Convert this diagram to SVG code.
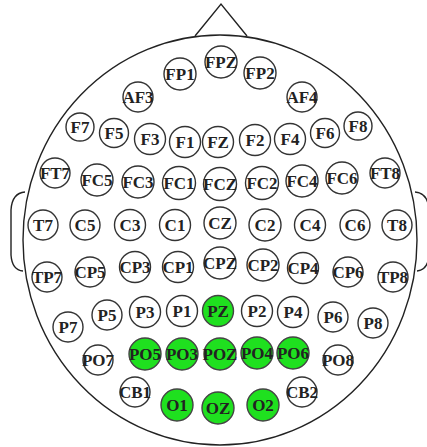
<svg xmlns="http://www.w3.org/2000/svg" width="427" height="447" viewBox="0 0 427 447">
<style>
.head{fill:none;stroke:#222;stroke-width:1.4}
.e circle{fill:#fff;stroke:#333;stroke-width:1.4}
.g circle{fill:#1fe01f;stroke:#444;stroke-width:1.4}
text{font-family:"Liberation Serif","Times New Roman",serif;font-size:17px;font-weight:bold;fill:#222;text-anchor:middle}
</style>
<rect width="427" height="447" fill="#fff"/>
<g id="head">
<ellipse class="head" cx="220" cy="240" rx="197" ry="205"/>
<path class="head" d="M195 36 L221 4 L247 36"/>
<path class="head" d="M25 192 Q12 193 11 210 L11 255 Q12 270 23 271"/>
<path class="head" d="M415 192 Q428 193 429 210 L429 255 Q428 270 417 271"/>
</g>
<g id="connectors"></g>
<g id="FPZ" class="e"><circle cx="221" cy="62" r="16"/><text x="221" y="67.6">FPZ</text></g>
<g id="FP1" class="e"><circle cx="180" cy="74" r="16"/><text x="180" y="79.6">FP1</text></g>
<g id="FP2" class="e"><circle cx="260" cy="73" r="16"/><text x="260" y="78.6">FP2</text></g>
<g id="AF3" class="e"><circle cx="138" cy="97" r="15"/><text x="138" y="102.6">AF3</text></g>
<g id="AF4" class="e"><circle cx="302" cy="97" r="15"/><text x="302" y="102.6">AF4</text></g>
<g id="F7" class="e"><circle cx="80" cy="127" r="14"/><text x="80" y="132.6">F7</text></g>
<g id="F5" class="e"><circle cx="114" cy="133" r="14.5"/><text x="114" y="138.6">F5</text></g>
<g id="F3" class="e"><circle cx="150" cy="139" r="15.5"/><text x="150" y="144.6">F3</text></g>
<g id="F1" class="e"><circle cx="185" cy="142" r="15.5"/><text x="185" y="147.6">F1</text></g>
<g id="FZ" class="e"><circle cx="218" cy="142" r="15.5"/><text x="218" y="147.6">FZ</text></g>
<g id="F2" class="e"><circle cx="255" cy="140" r="15.5"/><text x="255" y="145.6">F2</text></g>
<g id="F4" class="e"><circle cx="290" cy="139" r="15.5"/><text x="290" y="144.6">F4</text></g>
<g id="F6" class="e"><circle cx="325" cy="133" r="14.5"/><text x="325" y="138.6">F6</text></g>
<g id="F8" class="e"><circle cx="358" cy="126" r="14"/><text x="358" y="131.6">F8</text></g>
<g id="FT7" class="e"><circle cx="55" cy="173" r="15"/><text x="55" y="178.6">FT7</text></g>
<g id="FC5" class="e"><circle cx="97" cy="180" r="16"/><text x="97" y="185.6">FC5</text></g>
<g id="FC3" class="e"><circle cx="138" cy="182" r="16"/><text x="138" y="187.6">FC3</text></g>
<g id="FC1" class="e"><circle cx="179" cy="183" r="16.5"/><text x="179" y="188.6">FC1</text></g>
<g id="FCZ" class="e"><circle cx="220" cy="184" r="16.5"/><text x="220" y="189.6">FCZ</text></g>
<g id="FC2" class="e"><circle cx="262" cy="183" r="16.5"/><text x="262" y="188.6">FC2</text></g>
<g id="FC4" class="e"><circle cx="302" cy="181" r="16"/><text x="302" y="186.6">FC4</text></g>
<g id="FC6" class="e"><circle cx="342" cy="178" r="16"/><text x="342" y="183.6">FC6</text></g>
<g id="FT8" class="e"><circle cx="385" cy="173" r="15"/><text x="385" y="178.6">FT8</text></g>
<g id="T7" class="e"><circle cx="43" cy="225" r="15"/><text x="43" y="230.6">T7</text></g>
<g id="C5" class="e"><circle cx="85" cy="225" r="15"/><text x="85" y="230.6">C5</text></g>
<g id="C3" class="e"><circle cx="130" cy="225" r="15.5"/><text x="130" y="230.6">C3</text></g>
<g id="C1" class="e"><circle cx="175" cy="225" r="15.5"/><text x="175" y="230.6">C1</text></g>
<g id="CZ" class="e"><circle cx="220" cy="223" r="16"/><text x="220" y="228.6">CZ</text></g>
<g id="C2" class="e"><circle cx="265" cy="225" r="16"/><text x="265" y="230.6">C2</text></g>
<g id="C4" class="e"><circle cx="310" cy="225" r="15.5"/><text x="310" y="230.6">C4</text></g>
<g id="C6" class="e"><circle cx="355" cy="225" r="15"/><text x="355" y="230.6">C6</text></g>
<g id="T8" class="e"><circle cx="397" cy="225" r="15"/><text x="397" y="230.6">T8</text></g>
<g id="TP7" class="e"><circle cx="47" cy="277" r="15"/><text x="47" y="282.6">TP7</text></g>
<g id="CP5" class="e"><circle cx="90" cy="272" r="15"/><text x="90" y="277.6">CP5</text></g>
<g id="CP3" class="e"><circle cx="135" cy="267" r="15.5"/><text x="135" y="272.6">CP3</text></g>
<g id="CP1" class="e"><circle cx="178" cy="267" r="15.5"/><text x="178" y="272.6">CP1</text></g>
<g id="CPZ" class="e"><circle cx="220" cy="263" r="16"/><text x="220" y="268.6">CPZ</text></g>
<g id="CP2" class="e"><circle cx="263" cy="265" r="16"/><text x="263" y="270.6">CP2</text></g>
<g id="CP4" class="e"><circle cx="303" cy="268" r="15.5"/><text x="303" y="273.6">CP4</text></g>
<g id="CP6" class="e"><circle cx="348" cy="272" r="15"/><text x="348" y="277.6">CP6</text></g>
<g id="TP8" class="e"><circle cx="393" cy="277" r="15"/><text x="393" y="282.6">TP8</text></g>
<g id="P7" class="e"><circle cx="68" cy="327" r="15"/><text x="68" y="332.6">P7</text></g>
<g id="P5" class="e"><circle cx="107" cy="315" r="15"/><text x="107" y="320.6">P5</text></g>
<g id="P3" class="e"><circle cx="145" cy="312" r="15.5"/><text x="145" y="317.6">P3</text></g>
<g id="P1" class="e"><circle cx="182" cy="311" r="15.5"/><text x="182" y="316.6">P1</text></g>
<g id="PZ" class="g"><circle cx="218" cy="311" r="15.5"/><text x="218" y="316.6">PZ</text></g>
<g id="P2" class="e"><circle cx="257" cy="311" r="15.5"/><text x="257" y="316.6">P2</text></g>
<g id="P4" class="e"><circle cx="293" cy="312" r="15.5"/><text x="293" y="317.6">P4</text></g>
<g id="P6" class="e"><circle cx="333" cy="317" r="15"/><text x="333" y="322.6">P6</text></g>
<g id="P8" class="e"><circle cx="373" cy="323" r="15"/><text x="373" y="328.6">P8</text></g>
<g id="PO7" class="e"><circle cx="98" cy="360" r="15"/><text x="98" y="365.6">PO7</text></g>
<g id="PO5" class="g"><circle cx="145" cy="354" r="16"/><text x="145" y="359.6">PO5</text></g>
<g id="PO3" class="g"><circle cx="182" cy="354" r="16"/><text x="182" y="359.6">PO3</text></g>
<g id="POZ" class="g"><circle cx="220" cy="354" r="16"/><text x="220" y="359.6">POZ</text></g>
<g id="PO4" class="g"><circle cx="257" cy="353" r="16"/><text x="257" y="358.6">PO4</text></g>
<g id="PO6" class="g"><circle cx="293" cy="353" r="16"/><text x="293" y="358.6">PO6</text></g>
<g id="PO8" class="e"><circle cx="338" cy="360" r="15"/><text x="338" y="365.6">PO8</text></g>
<g id="CB1" class="e"><circle cx="135" cy="392" r="15"/><text x="135" y="397.6">CB1</text></g>
<g id="O1" class="g"><circle cx="177" cy="405" r="16"/><text x="177" y="410.6">O1</text></g>
<g id="OZ" class="g"><circle cx="218" cy="408" r="16"/><text x="218" y="413.6">OZ</text></g>
<g id="O2" class="g"><circle cx="263" cy="405" r="16"/><text x="263" y="410.6">O2</text></g>
<g id="CB2" class="e"><circle cx="302" cy="392" r="15"/><text x="302" y="397.6">CB2</text></g>
</svg>
